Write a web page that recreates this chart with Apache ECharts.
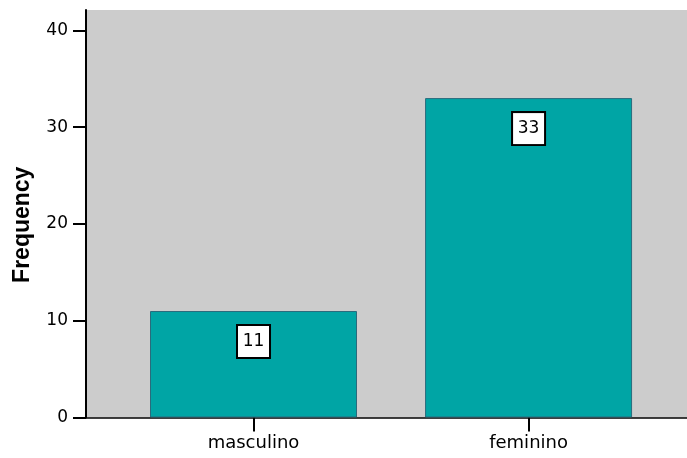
<!DOCTYPE html>
<html>
<head>
<meta charset="utf-8">
<script src="https://cdn.jsdelivr.net/npm/echarts@6/dist/echarts.min.js"></script>
<style>
  html, body { margin: 0; padding: 0; background: #ffffff; }
  #chart { width: 687px; height: 458px; }
</style>
</head>
<body>
<div id="chart"></div>
<script>
// Gender counts
const categories = ['masculino', 'feminino'];
const frequencies = [11, 33];
const yTickValues = [0, 10, 20, 30, 40];

const positions = categories.map((_, i) => i);
const barData = frequencies.map((v, i) => [positions[i], v]);

const chart = echarts.init(document.getElementById('chart'));
chart.setOption({
  animation: false,
  grid: {
    left: 86, top: 10, right: 0, bottom: 40.5,
    containLabel: false,
    outerBoundsMode: 'none',
    show: true, backgroundColor: '#cccccc', borderWidth: 0
  },
  xAxis: {
    type: 'value',
    min: -0.609, max: 1.576,
    splitLine: { show: false },
    axisLine: { show: true, onZero: false, lineStyle: { color: '#000', width: 1.5 } },
    axisTick: { show: true, customValues: positions, length: 14, lineStyle: { color: '#000', width: 2 } },
    axisLabel: {
      customValues: positions,
      formatter: v => categories[Math.round(v)],
      margin: 17,
      color: '#000',
      fontFamily: 'DejaVu Sans',
      fontSize: 18
    }
  },
  yAxis: {
    type: 'value',
    min: 0, max: 42.1,
    name: 'Frequency',
    nameLocation: 'middle',
    nameGap: 52,
    nameTextStyle: {
      fontFamily: 'Liberation Sans', fontWeight: 'bold', fontSize: 23, color: '#000',
      padding: [0, 22, 0, 0]
    },
    splitLine: { show: false },
    axisLine: { show: true, onZero: false, lineStyle: { color: '#000', width: 2 } },
    axisTick: { show: true, customValues: yTickValues, length: 13, lineStyle: { color: '#000', width: 2 } },
    axisLabel: {
      customValues: yTickValues,
      margin: 18,
      color: '#000',
      fontFamily: 'DejaVu Sans',
      fontSize: 17
    }
  },
  series: [{
    type: 'bar',
    data: barData,
    barWidth: 207,
    itemStyle: { color: '#00a5a5', borderColor: '#2a6b7c', borderWidth: 1 },
    label: {
      show: true,
      position: 'insideTop',
      distance: 15,
      formatter: p => String(p.value[1]),
      color: '#000',
      fontFamily: 'DejaVu Sans',
      fontSize: 17,
      lineHeight: 17,
      backgroundColor: '#ffffff',
      borderColor: '#000',
      borderWidth: 2,
      width: 21,
      padding: [7, 5],
      align: 'center'
    }
  }]
});
</script>
</body>
</html>
